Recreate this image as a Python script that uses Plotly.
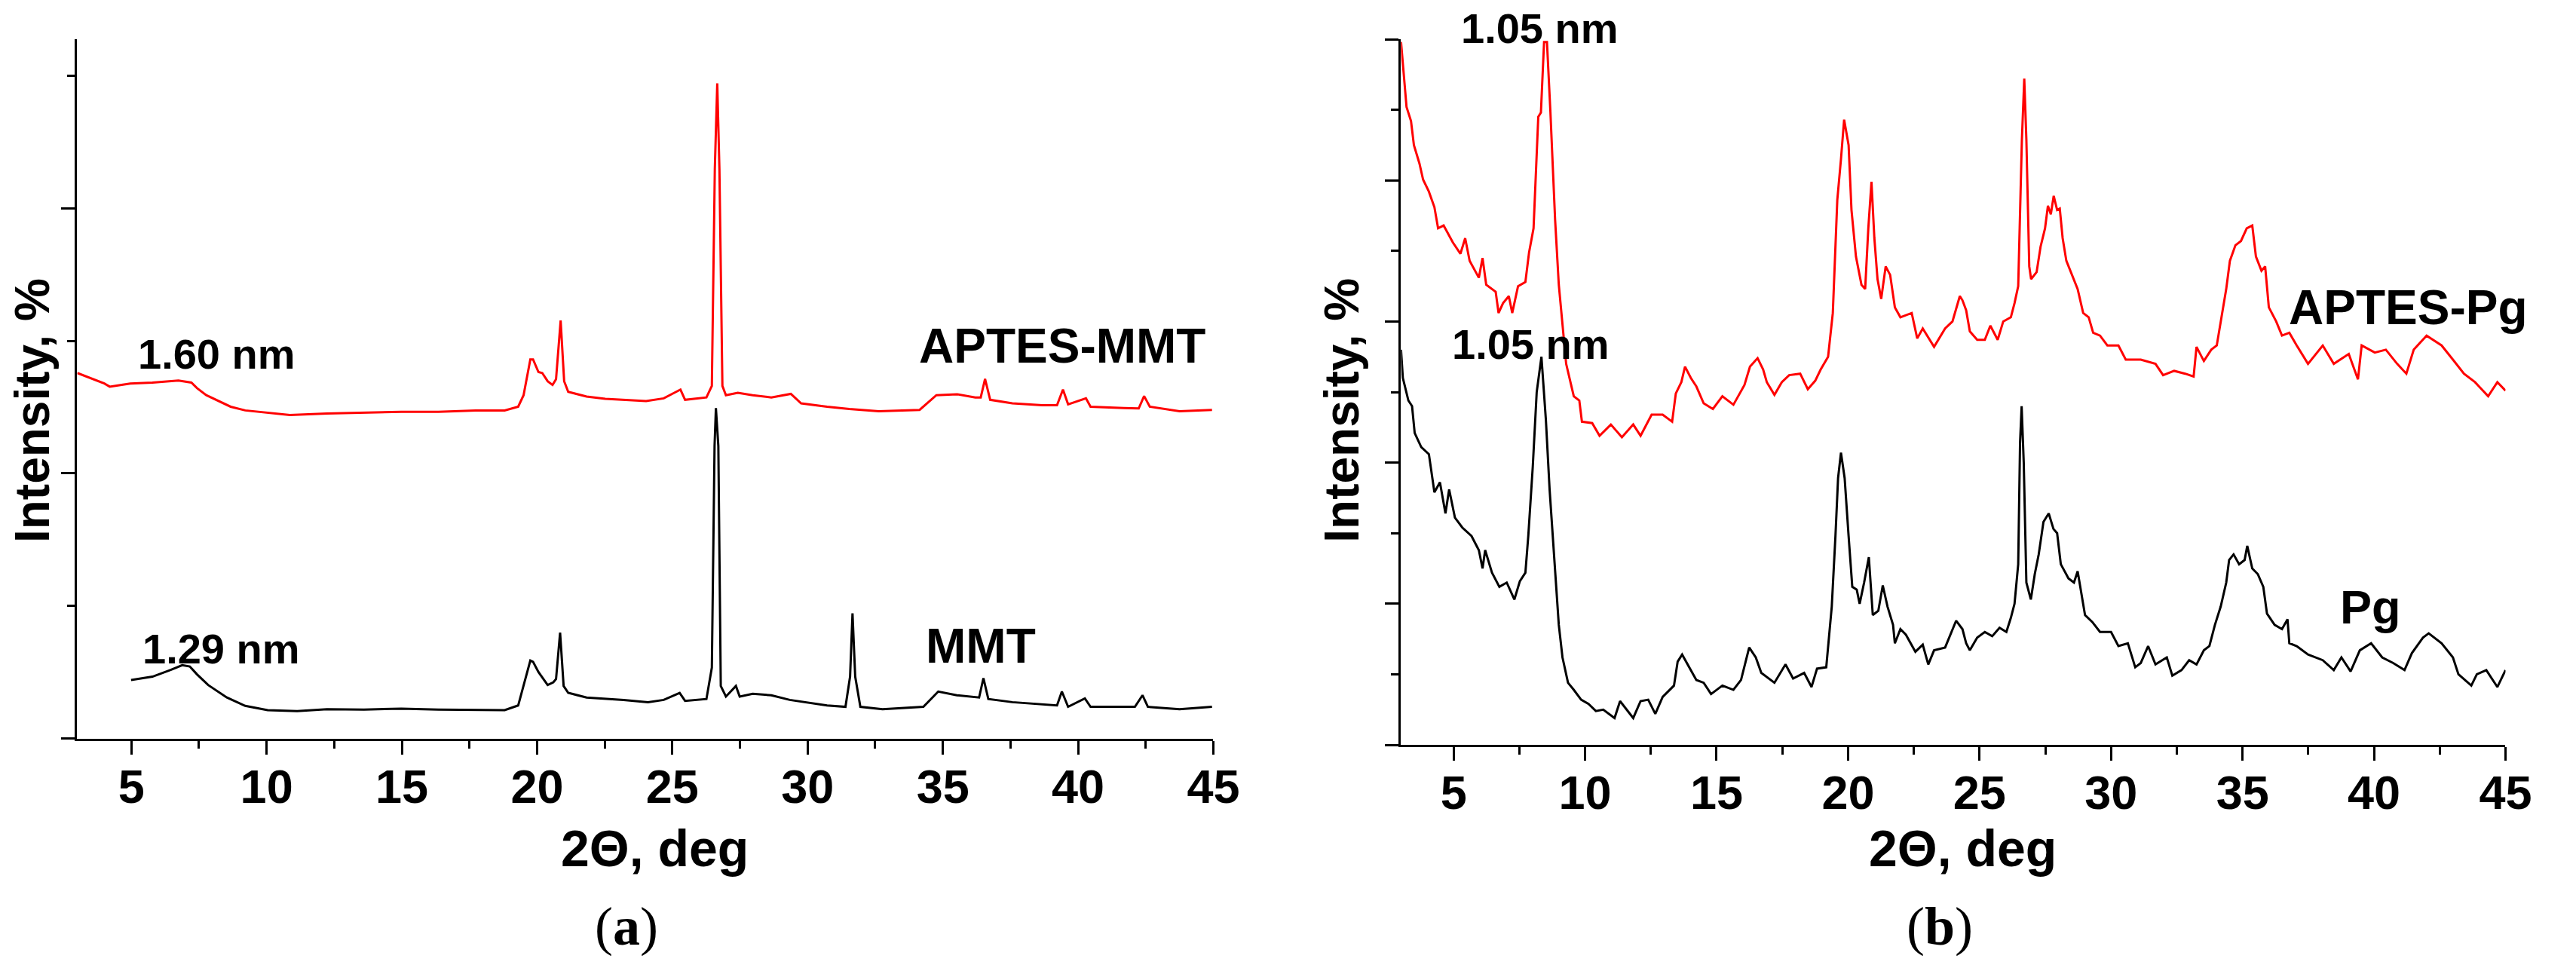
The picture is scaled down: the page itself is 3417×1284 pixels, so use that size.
import plotly.graph_objects as go

# ---- panel (a): MMT / APTES-MMT ----
aptes_mmt_x = [3.0, 4.0, 4.2, 4.96, 5.78, 6.74, 7.22, 7.43, 7.77, 8.12, 8.67, 9.21, 10.04, 10.86, 12.23,
               13.6, 14.98, 16.35, 17.72, 18.8, 19.3, 19.5, 19.75, 19.85, 20.05, 20.19, 20.39, 20.57, 20.7,
               20.87, 21.0, 21.15, 21.83, 22.52, 23.2, 24.03, 24.68, 25.3, 25.47, 26.26, 26.46, 26.57, 26.66,
               26.74, 26.85, 26.98, 27.42, 27.97, 28.66, 29.38, 29.76, 30.72, 31.54, 32.63, 34.14, 34.76,
               35.52, 36.2, 36.4, 36.56, 36.75, 37.57, 38.67, 39.22, 39.44, 39.63, 40.29, 40.46, 41.69,
               42.24, 42.44, 42.65, 43.75, 44.95]
aptes_mmt_y = [2.757, 2.678, 2.654, 2.678, 2.685, 2.70, 2.685, 2.643, 2.590, 2.555, 2.503, 2.475, 2.458,
               2.441, 2.451, 2.458, 2.465, 2.465, 2.475, 2.475, 2.503, 2.590, 2.860, 2.860, 2.764, 2.757,
               2.695, 2.667, 2.71, 3.153, 2.695, 2.615, 2.580, 2.562, 2.555, 2.545, 2.566, 2.632, 2.555,
               2.573, 2.660, 4.296, 4.94, 4.296, 2.660, 2.590, 2.608, 2.590, 2.573, 2.60, 2.528, 2.503,
               2.486, 2.469, 2.479, 2.590, 2.597, 2.573, 2.573, 2.712, 2.555, 2.528, 2.514, 2.514, 2.632,
               2.521, 2.566, 2.503, 2.493, 2.49, 2.583, 2.503, 2.469, 2.479]

mmt_x = [4.99, 5.78, 6.47, 6.88, 7.16, 7.43, 7.84, 8.53, 9.21, 10.04, 11.13, 12.23, 13.6, 14.98, 16.35,
         18.8, 19.3, 19.5, 19.75, 19.85, 20.05, 20.39, 20.6, 20.7, 20.85, 20.98, 21.15, 21.83, 23.2, 24.1,
         24.68, 25.27, 25.47, 26.26, 26.46, 26.56, 26.61, 26.7, 26.79, 26.98, 27.35, 27.49, 27.97, 28.66,
         29.34, 30.72, 31.4, 31.57, 31.66, 31.76, 31.95, 32.77, 34.28, 34.83, 35.52, 36.34, 36.5, 36.68,
         37.57, 39.22, 39.4, 39.63, 40.25, 40.46, 42.1, 42.38, 42.58, 43.75, 44.95]
mmt_y = [0.443, 0.468, 0.520, 0.555, 0.545, 0.485, 0.405, 0.311, 0.248, 0.216, 0.209, 0.223, 0.220, 0.227,
         0.220, 0.216, 0.251, 0.398, 0.590, 0.580, 0.503, 0.405, 0.426, 0.45, 0.800, 0.398, 0.346, 0.311,
         0.293, 0.276, 0.293, 0.346, 0.286, 0.300, 0.536, 2.207, 2.493, 2.207, 0.398, 0.318, 0.398, 0.318,
         0.339, 0.328, 0.293, 0.251, 0.241, 0.468, 0.945, 0.468, 0.241, 0.223, 0.241, 0.356, 0.328, 0.311,
         0.457, 0.300, 0.276, 0.251, 0.356, 0.241, 0.304, 0.241, 0.241, 0.328, 0.241, 0.223, 0.241]

# ---- panel (b): Pg / APTES-Pg ----
aptes_pg_x = [3.0, 3.07, 3.21, 3.38, 3.49, 3.70, 3.84, 4.06, 4.27, 4.41, 4.62, 4.97, 5.26, 5.44, 5.61,
              5.96, 6.1, 6.24, 6.6, 6.71, 6.88, 7.1, 7.23, 7.45, 7.73, 7.87, 8.04, 8.22, 8.32, 8.44, 8.55,
              8.68, 8.86, 9.0, 9.14, 9.28, 9.57, 9.78, 9.88, 10.27, 10.55, 10.98, 11.4, 11.83, 12.11, 12.53,
              12.95, 13.31, 13.45, 13.66, 13.8, 14.02, 14.23, 14.51, 14.86, 15.22, 15.64, 16.06, 16.27,
              16.56, 16.77, 16.91, 17.2, 17.48, 17.76, 18.18, 18.47, 18.75, 18.96, 19.24, 19.42, 19.59,
              19.73, 19.85, 20.02, 20.13, 20.3, 20.51, 20.65, 20.77, 20.89, 21.0, 21.12, 21.26, 21.43, 21.6,
              21.78, 21.99, 22.42, 22.63, 22.84, 23.27, 23.69, 23.97, 24.25, 24.35,
              24.49, 24.63, 24.91, 25.2, 25.41, 25.69, 25.9, 26.19, 26.33, 26.47, 26.61, 26.7, 26.78, 26.89,
              26.96, 27.17, 27.32, 27.49, 27.6, 27.71, 27.82, 27.95, 28.05, 28.16, 28.3, 28.52, 28.73, 28.94,
              29.15, 29.32, 29.58, 29.86, 30.28, 30.56, 31.13, 31.69, 31.98, 32.4, 32.82, 33.14, 33.25, 33.53,
              33.81, 34.02, 34.17, 34.38, 34.52, 34.73, 34.94, 35.16, 35.37, 35.51, 35.72, 35.86, 36.0, 36.28,
              36.5, 36.78, 37.06, 37.49, 38.05, 38.47, 39.04, 39.39, 39.53, 40.03, 40.45, 40.88, 41.23, 41.51,
              42.0, 42.57, 43.0, 43.42, 43.84, 44.34, 44.69, 45.0]
aptes_pg_y = [4.98, 4.83, 4.52, 4.42, 4.25, 4.12, 4.005, 3.92, 3.81, 3.66, 3.68, 3.56, 3.48, 3.59, 3.43,
              3.31, 3.45, 3.26, 3.21, 3.06, 3.13, 3.18, 3.06, 3.25, 3.28, 3.49, 3.66, 4.45, 4.48, 4.98, 4.98,
              4.49, 3.72, 3.26, 3.0, 2.70, 2.47, 2.44, 2.29, 2.28, 2.19, 2.27, 2.18, 2.27, 2.19, 2.34, 2.34,
              2.29, 2.49, 2.57, 2.68, 2.60, 2.54, 2.42, 2.38, 2.47, 2.41, 2.55, 2.68, 2.74, 2.66, 2.57, 2.48,
              2.57, 2.62, 2.63, 2.52, 2.58, 2.66, 2.75, 3.06, 3.86, 4.15, 4.43, 4.25, 3.79, 3.46, 3.26, 3.23,
              3.66, 3.99, 3.59, 3.30, 3.16, 3.39, 3.33, 3.10, 3.03, 3.06, 2.88, 2.95, 2.82, 2.95, 3.0, 3.18,
              3.15,
              3.08, 2.93, 2.87, 2.87, 2.97, 2.87, 3.0, 3.03, 3.13, 3.25, 4.29, 4.72, 4.29, 3.39, 3.30, 3.35,
              3.53, 3.66, 3.82, 3.76, 3.89, 3.79, 3.80, 3.59, 3.43, 3.33, 3.23, 3.06, 3.03, 2.92, 2.90, 2.83,
              2.83, 2.73, 2.73, 2.70, 2.62, 2.65, 2.63, 2.61, 2.82, 2.72, 2.80, 2.83, 3.0, 3.23, 3.43, 3.54,
              3.57, 3.66, 3.68, 3.46, 3.36, 3.39, 3.10, 3.0, 2.90, 2.92, 2.83, 2.70, 2.83, 2.70, 2.77, 2.59,
              2.83, 2.78, 2.80, 2.70, 2.63, 2.80, 2.90, 2.83, 2.73, 2.63, 2.57, 2.47, 2.57, 2.51]

pg_x = [3.0, 3.07, 3.28, 3.42, 3.52, 3.77, 4.06, 4.27, 4.48, 4.69, 4.83, 5.05, 5.33, 5.68, 5.96, 6.1, 6.2,
        6.46, 6.74, 7.02, 7.31, 7.52, 7.73, 7.84, 8.01, 8.16, 8.34, 8.51, 8.65, 8.83, 9.0, 9.14, 9.35, 9.57,
        9.85, 10.13, 10.41, 10.69, 11.12, 11.33, 11.83, 12.11, 12.4, 12.67, 12.95, 13.38, 13.52, 13.69,
        13.94, 14.23, 14.51, 14.79, 15.22, 15.64, 15.93, 16.24, 16.49, 16.7, 17.2, 17.62, 17.91, 18.33,
        18.61, 18.82, 19.17, 19.28, 19.38, 19.52, 19.62, 19.73, 19.87, 20.02, 20.16, 20.33, 20.44, 20.61,
        20.79, 20.94, 21.15, 21.32, 21.5, 21.71, 21.78, 21.99, 22.2, 22.56, 22.84, 23.05, 23.27, 23.69,
        24.11,
        24.35, 24.49, 24.63, 24.91, 25.2, 25.48, 25.76, 26.02, 26.19, 26.33, 26.47, 26.54, 26.6, 26.68,
        26.78, 26.95, 27.1, 27.25, 27.43, 27.63, 27.81, 27.95, 28.09, 28.38, 28.59, 28.73, 29.01, 29.29,
        29.58, 30.0, 30.28, 30.64, 30.92, 31.13, 31.41, 31.69, 32.12, 32.33, 32.68, 32.97, 33.25, 33.53,
        33.74, 33.95, 34.17, 34.38, 34.49, 34.66, 34.87, 35.08, 35.18, 35.37, 35.58, 35.79, 35.93, 36.22,
        36.5, 36.71, 36.78, 37.06, 37.49, 38.05, 38.47, 38.76, 39.11, 39.46, 39.89, 40.31, 40.73, 41.16,
        41.44, 41.86, 42.08, 42.57, 43.0, 43.21, 43.7, 43.91, 44.27, 44.69, 45.0]
pg_y = [2.80, 2.60, 2.44, 2.40, 2.21, 2.11, 2.06, 1.79, 1.86, 1.64, 1.81, 1.61, 1.54, 1.48, 1.38, 1.25,
        1.38, 1.22, 1.12, 1.15, 1.03, 1.16, 1.22, 1.48, 1.97, 2.50, 2.75, 2.30, 1.81, 1.31, 0.85, 0.62, 0.44,
        0.39, 0.32, 0.29, 0.24, 0.25, 0.19, 0.31, 0.19, 0.31, 0.32, 0.22, 0.34, 0.42, 0.59, 0.64, 0.56, 0.46,
        0.44, 0.36, 0.42, 0.39, 0.46, 0.69, 0.62, 0.51, 0.44, 0.57, 0.47, 0.51, 0.41, 0.54, 0.55, 0.78, 0.98,
        1.48, 1.89, 2.07, 1.89, 1.48, 1.12, 1.10, 1.00, 1.15, 1.33, 0.92, 0.95, 1.13, 0.98, 0.85, 0.72, 0.82,
        0.78, 0.66, 0.71, 0.57, 0.67, 0.69, 0.88,
        0.82, 0.72, 0.67, 0.76, 0.80, 0.77, 0.83, 0.80, 0.90, 1.00, 1.28, 2.14, 2.40, 2.0, 1.15, 1.03, 1.21,
        1.35, 1.58, 1.64, 1.53, 1.50, 1.28, 1.18, 1.15, 1.23, 0.92, 0.87, 0.80, 0.80, 0.70, 0.72, 0.55, 0.58,
        0.70, 0.57, 0.62, 0.49, 0.53, 0.60, 0.57, 0.67, 0.70, 0.85, 0.98, 1.15, 1.31, 1.35, 1.28, 1.31, 1.41,
        1.25, 1.21, 1.12, 0.93, 0.85, 0.82, 0.89, 0.72, 0.70, 0.64, 0.60, 0.53, 0.62, 0.52, 0.67, 0.72, 0.62,
        0.58, 0.53, 0.65, 0.76, 0.79, 0.72, 0.62, 0.50, 0.42, 0.50, 0.53, 0.41, 0.53]

x_ticks = [5, 10, 15, 20, 25, 30, 35, 40, 45]

BOLD = dict(family="Liberation Sans, Arial, sans-serif", color="black", weight="bold")
RED = "#ff0000"

fig = go.Figure()
fig.add_trace(go.Scatter(x=aptes_mmt_x, y=aptes_mmt_y, mode="lines", line=dict(color=RED, width=3),
                         name="APTES-MMT", xaxis="x", yaxis="y"))
fig.add_trace(go.Scatter(x=mmt_x, y=mmt_y, mode="lines", line=dict(color="black", width=3),
                         name="MMT", xaxis="x", yaxis="y"))
fig.add_trace(go.Scatter(x=aptes_pg_x, y=aptes_pg_y, mode="lines", line=dict(color=RED, width=3),
                         name="APTES-Pg", xaxis="x2", yaxis="y2"))
fig.add_trace(go.Scatter(x=pg_x, y=pg_y, mode="lines", line=dict(color="black", width=3),
                         name="Pg", xaxis="x2", yaxis="y2"))


def x_axis(domain, anchor):
    return dict(domain=domain, anchor=anchor, range=[3, 45], tickvals=x_ticks,
                showline=True, linecolor="black", linewidth=3, ticks="outside", ticklen=18,
                tickwidth=3, tickcolor="black", showgrid=False, zeroline=False,
                tickfont=dict(BOLD, size=63), ticklabelstandoff=-12,
                minor=dict(dtick=2.5, tick0=0, ticks="outside", ticklen=10, tickwidth=3,
                           tickcolor="black", showgrid=False))


def y_axis(domain, anchor, top, dtick):
    return dict(domain=domain, anchor=anchor, range=[0, top], dtick=dtick, tick0=0,
                showline=True, linecolor="black", linewidth=3, ticks="outside", ticklen=18,
                tickwidth=3, tickcolor="black", showgrid=False, zeroline=False,
                showticklabels=False,
                minor=dict(dtick=dtick / 2, tick0=0, ticks="outside", ticklen=10, tickwidth=3,
                           tickcolor="black", showgrid=False))


fig.update_layout(
    width=3417, height=1284,
    margin=dict(l=0, r=0, t=0, b=0),
    paper_bgcolor="white", plot_bgcolor="white",
    showlegend=False,
    xaxis=x_axis([0.0303, 0.4759], "y"),
    yaxis=y_axis([0.2368, 0.9595], "x", 5.273, 2),
    xaxis2=x_axis([0.5495, 0.9827], "y2"),
    yaxis2=y_axis([0.2305, 0.9595], "x2", 5.0, 1),
)

labels = [
    ("x", "y", 8.16, 2.90, "1.60 nm", 56),
    ("x", "y", 8.32, 0.68, "1.29 nm", 56),
    ("x", "y", 39.42, 2.96, "APTES-MMT", 64),
    ("x", "y", 36.39, 0.70, "MMT", 64),
    ("x2", "paper", 8.29, 0.971, "1.05 nm", 56),
    ("x2", "y2", 7.92, 2.84, "1.05 nm", 56),
    ("x2", "y2", 41.28, 3.10, "APTES-Pg", 64),
    ("x2", "y2", 39.86, 0.98, "Pg", 63),
]
for xr, yr, xv, yv, txt, sz in labels:
    fig.add_annotation(xref=xr, yref=yr, x=xv, y=yv, text=txt, showarrow=False,
                       xanchor="center", yanchor="middle", font=dict(BOLD, size=sz))

# axis titles and panel letters
for xp in (0.2567, 0.7697):
    fig.add_annotation(xref="paper", yref="paper", x=xp, y=0.124, text="2\u0398, deg",
                       showarrow=False, xanchor="center", yanchor="middle",
                       font=dict(BOLD, size=68))
for xp in (0.0129, 0.5264):
    fig.add_annotation(xref="paper", yref="paper", x=xp, y=0.576, text="Intensity, %",
                       textangle=-90, showarrow=False, xanchor="center", yanchor="middle",
                       font=dict(BOLD, size=64))
for xp, letter in ((0.2458, "a"), (0.7609, "b")):
    fig.add_annotation(xref="paper", yref="paper", x=xp, y=0.043, text="(<b>%s</b>)" % letter,
                       showarrow=False, xanchor="center", yanchor="middle",
                       font=dict(family="Liberation Serif, DejaVu Serif, serif", size=72,
                                 color="black"))

fig.write_html("out.html", config={"displayModeBar": False},
               post_script="document.body.style.margin='0';")
